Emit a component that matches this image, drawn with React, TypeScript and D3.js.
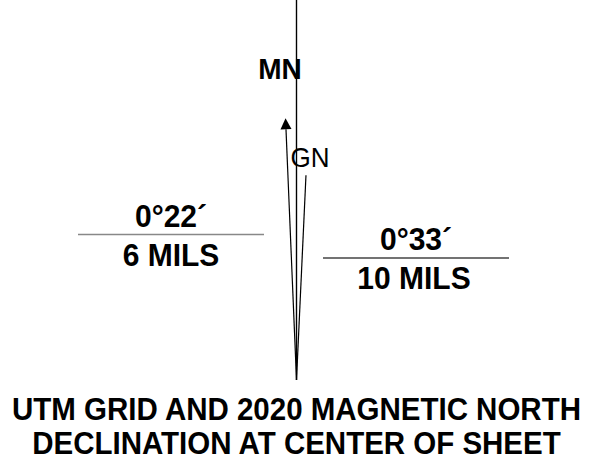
import React from "react";
import * as d3 from "d3";

const W = 593;
const H = 461;

// Diagram lines: angle from vertical (degrees, exaggerated as drawn) and length in px units
const lineNames = ["TN", "ARROW", "GN"];
const lineAngles = [0, -2.4, 2.65];
const lineLengths = [380, 262, 205];
const lineArrow = [false, true, false];

const labelTexts = ["MN", "GN"];
const fractionTop = ["0°22´", "0°33´"];
const fractionBottom = ["6 MILS", "10 MILS"];
const titleLines = ["UTM GRID AND 2020 MAGNETIC NORTH", "DECLINATION AT CENTER OF SHEET"];

export default function App() {
  const vx = 296.5;
  const vy = 380;
  const ang = d3.scaleLinear().domain([0, 180]).range([0, Math.PI]);
  const ends = lineAngles.map((a, i) => {
    const r = ang(a);
    return { x: vx + Math.sin(r) * lineLengths[i], y: vy - Math.cos(r) * lineLengths[i], arrow: lineArrow[i], name: lineNames[i] };
  });
  const font = "'Liberation Sans', Arial, Helvetica, sans-serif";
  const fracX = [171, 416];
  const fracLineY = [234.5, 258];
  const fracLineX = [[78, 264], [323, 509]];
  const fracStroke = ["#888", "#444"];
  const sy = 1.06;
  const T = (x: number, y: number) => `translate(${x},${y}) scale(1,${sy})`;
  return (
    <svg width={W} height={H} style={{ position: "absolute", left: 0, top: 0, background: "#fff" }}>
      {ends.map((e, i) => {
        if (!e.arrow) {
          return <line key={i} x1={vx} y1={vy} x2={e.x} y2={e.y} stroke="#000" strokeWidth={1.2} />;
        }
        const dx = e.x - vx, dy = e.y - vy;
        const len = Math.hypot(dx, dy);
        const ux = dx / len, uy = dy / len;
        const hl = 11, hw = 5.5;
        const bx = e.x - ux * hl, by = e.y - uy * hl;
        const px = -uy, py = ux;
        const tri = d3.path();
        tri.moveTo(e.x, e.y);
        tri.lineTo(bx + px * hw, by + py * hw);
        tri.lineTo(bx - px * hw, by - py * hw);
        tri.closePath();
        return (
          <g key={i}>
            <line x1={vx} y1={vy} x2={bx} y2={by} stroke="#000" strokeWidth={1.2} />
            <path d={tri.toString()} fill="#000" />
          </g>
        );
      })}
      <line x1={vx} y1={vy} x2={vx} y2={0} stroke="#000" strokeWidth={1.2} />
      <text transform={T(280, 79)} textAnchor="middle" fontFamily={font} fontWeight="bold" fontSize={28}>{labelTexts[0]}</text>
      <text transform={T(310, 167)} textAnchor="middle" fontFamily={font} fontSize={26}>{labelTexts[1]}</text>
      {fractionTop.map((t, i) => (
        <g key={i}>
          <text transform={T(fracX[i], fracLineY[i] - 8)} textAnchor="middle" fontFamily={font} fontWeight="bold" fontSize={30}>{t}</text>
          <line x1={fracLineX[i][0]} x2={fracLineX[i][1]} y1={fracLineY[i]} y2={fracLineY[i]} stroke={fracStroke[i]} strokeWidth={1.3} />
          <text transform={T(fracX[i] + (i === 0 ? 0 : -2), fracLineY[i] + 31)} textAnchor="middle" fontFamily={font} fontWeight="bold" fontSize={30}>{fractionBottom[i]}</text>
        </g>
      ))}
      {titleLines.map((t, i) => (
        <text key={i} transform={T(W / 2, 420 + i * 34)} textAnchor="middle" fontFamily={font} fontWeight="bold" fontSize={29.5}>{t}</text>
      ))}
    </svg>
  );
}
